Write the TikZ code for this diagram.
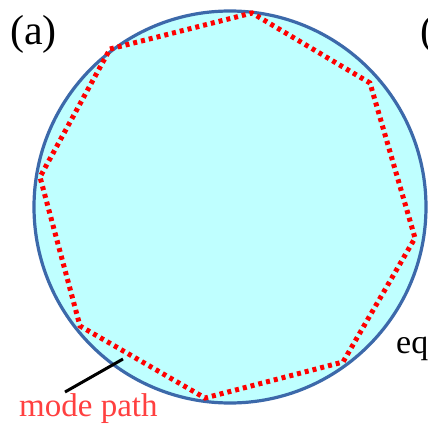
\documentclass[tikz,border=0pt]{standalone}
\usepackage{fontspec}
\setmainfont{Liberation Serif}
\definecolor{diskfill}{RGB}{191,255,255}
\definecolor{diskline}{RGB}{60,105,170}
\definecolor{pathred}{RGB}{255,0,0}
\definecolor{labelred}{RGB}{255,64,64}
\tikzset{
  modepath/.style={draw=pathred, line width=5pt, dash pattern=on 4pt off 4pt},
  bigtext/.style={inner sep=0pt, anchor=base west, font=\fontsize{42}{44}\selectfont}
}
\begin{document}
\begin{tikzpicture}[x=1pt, y=-1pt]
\useasboundingbox (0,0) rectangle (428,423);
\node[draw=diskline, fill=diskfill, line width=3.2pt, circle, minimum size=392pt, inner sep=0pt] (disk) at (230,207) {};
% corners of the mode path
\coordinate (v1) at (110,49);
\coordinate (v2) at (252,13);
\coordinate (v3) at (370,83);
\coordinate (v4) at (415,238);
\coordinate (v5) at (343,362);
\coordinate (v6) at (205,398);
\coordinate (v7) at (80,326);
\coordinate (v8) at (40,177);
\draw[modepath] (v1) -- (v2) -- (v3) -- (v4) -- (v5) -- (v6) -- (v7) -- (v8) -- cycle;
\coordinate (tip) at (123,359);
\coordinate (foot) at (65,392);
\node[bigtext] (tag) at (10,44) {(a)};
\node[bigtext] (tagb) at (420,44) {(};
\node[bigtext, font=\fontsize{34}{36}\selectfont] (eq) at (396,353) {eq};
\node[inner sep=0pt, anchor=base west, text=labelred, font=\fontsize{33}{36}\selectfont] (label) at (19,416) {mode path};
\draw[line width=3pt] (foot) -- (tip);
\end{tikzpicture}
\end{document}
